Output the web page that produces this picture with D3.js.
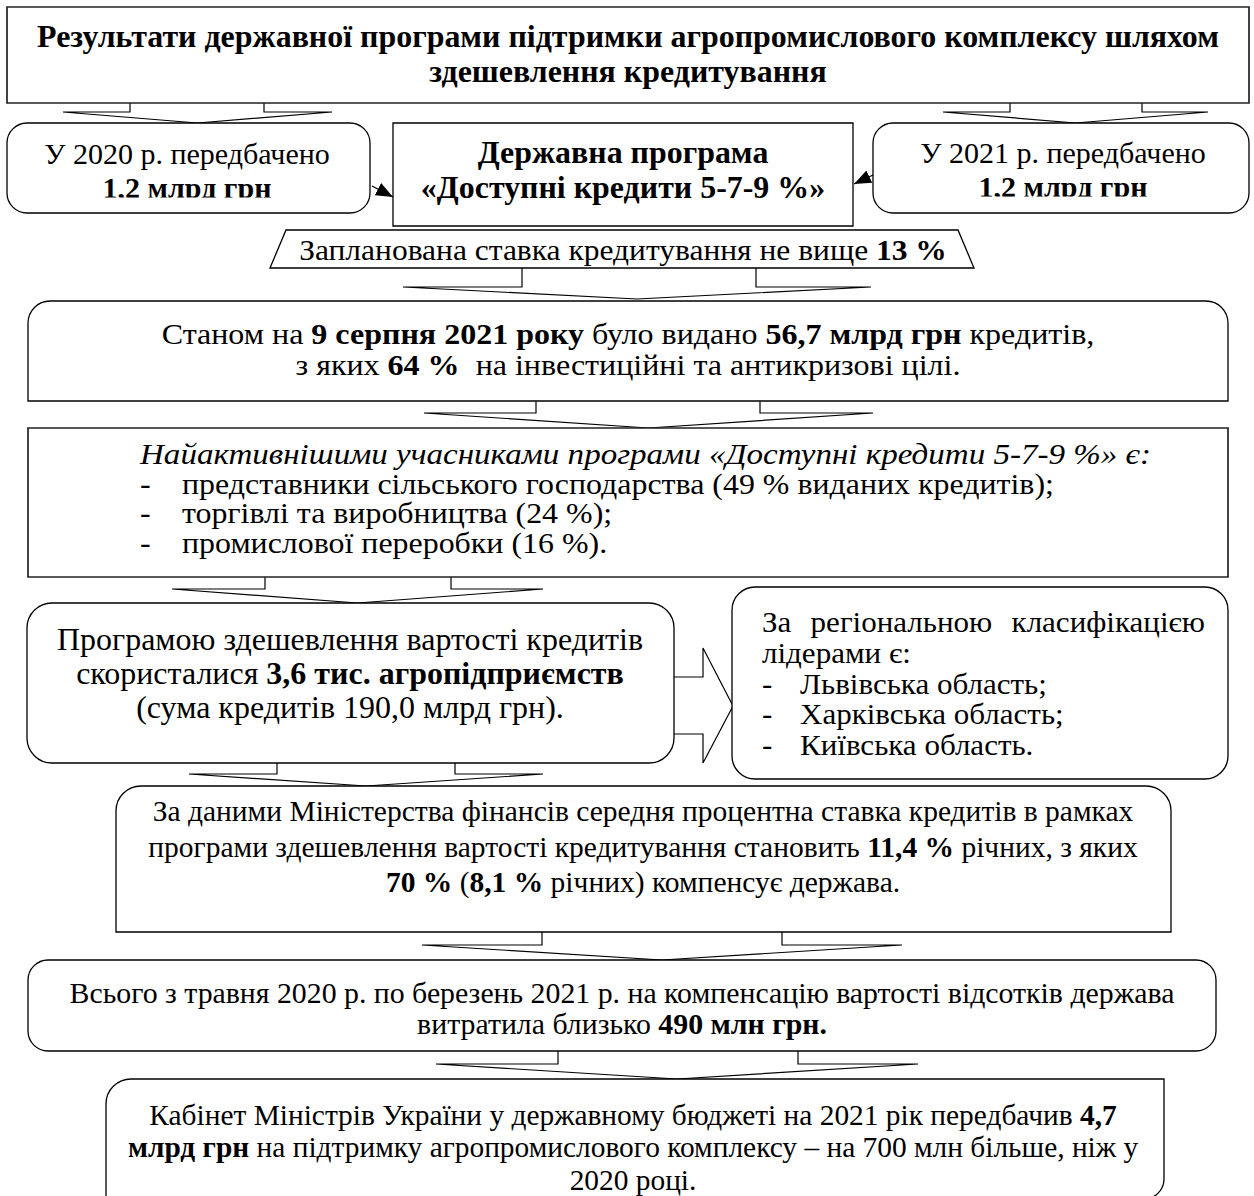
<!DOCTYPE html>
<html>
<head>
<meta charset="utf-8">
<script src="https://cdn.jsdelivr.net/npm/d3@7"></script>
<style>
  body { margin: 0; background: #fff; }
  text { white-space: pre; }
</style>
</head>
<body>
<script>
// block texts, ** marks bold parts
var titleLines = ["Результати державної програми підтримки агропромислового комплексу шляхом", "здешевлення кредитування"]
var plan2020 = ["У 2020 р. передбачено", "**1,2 млрд грн**"]
var programLines = ["Державна програма", "«Доступні кредити 5-7-9 %»"]
var plan2021 = ["У 2021 р. передбачено", "**1,2 млрд грн**"]
var rateLines = ["Запланована ставка кредитування не вище **13 %**"]
var issuedLines = ["Станом на **9 серпня 2021 року** було видано **56,7 млрд грн** кредитів,", "з яких **64 %**  на інвестиційні та антикризові цілі."]
var leadersHead = ["Найактивнішими учасниками програми «Доступні кредити 5-7-9 %» є:"]
var leadersItems = ["представники сільського господарства (49 % виданих кредитів);", "торгівлі та виробництва (24 %);", "промислової переробки (16 %)."]
var cheaperLines = ["Програмою здешевлення вартості кредитів", "скористалися **3,6 тис. агропідприємств**", "(сума кредитів 190,0 млрд грн)."]
var regionWords = ["За", "регіональною", "класифікацією"]
var regionHead = ["лідерами є:"]
var regionItems = ["Львівська область;", "Харківська область;", "Київська область."]
var ministryLines = ["За даними Міністерства фінансів середня процентна ставка кредитів в рамках", "програми здешевлення вартості кредитування становить **11,4 %** річних, з яких", "**70 %** (**8,1 %** річних) компенсує держава."]
var spentLines = ["Всього з травня 2020 р. по березень 2021 р. на компенсацію вартості відсотків держава", "витратила близько **490 млн грн.**"]
var cabinetLines = ["Кабінет Міністрів України у державному бюджеті на 2021 рік передбачив **4,7**", "**млрд грн** на підтримку агропромислового комплексу – на 700 млн більше, ніж у", "2020 році."]

var FONT = "'Liberation Serif', 'Times New Roman', serif"

var svg = d3.select("body").append("svg").attr("width", 1254).attr("height", 1196)

svg.append("defs").append("marker")
  .attr("id", "head").attr("viewBox", "0 0 10 10").attr("refX", 10).attr("refY", 5)
  .attr("markerWidth", 17).attr("markerHeight", 17).attr("markerUnits", "userSpaceOnUse").attr("orient", "auto")
  .append("path").attr("d", "M0,1 L10,5 L0,9 z").attr("fill", "#000")

// rounded box, r = [top-left, top-right, bottom-right, bottom-left]
function box(x, y, w, h, r, sw) {
  var p = d3.path()
  p.moveTo(x + r[0], y)
  p.lineTo(x + w - r[1], y); if (r[1]) p.arcTo(x + w, y, x + w, y + r[1], r[1])
  p.lineTo(x + w, y + h - r[2]); if (r[2]) p.arcTo(x + w, y + h, x + w - r[2], y + h, r[2])
  p.lineTo(x + r[3], y + h); if (r[3]) p.arcTo(x, y + h, x, y + h - r[3], r[3])
  p.lineTo(x, y + r[0]); if (r[0]) p.arcTo(x, y, x + r[0], y, r[0])
  p.closePath()
  return svg.append("path").attr("d", p.toString()).attr("fill", "#fff").attr("stroke", "#000").attr("stroke-width", sw || 1.3)
}

// wide down arrow: stem edges sl/sr, head y and wings hl/hr, tip at yTip
function downArrow(y0, sl, sr, yh, hl, hr, yTip) {
  var cx = (hl + hr) / 2
  var pts = [[sl, y0], [sl, yh], [hl, yh], [cx, yTip], [hr, yh], [sr, yh], [sr, y0]]
  svg.append("path").attr("d", d3.line()(pts)).attr("fill", "#fff").attr("stroke", "#000").attr("stroke-width", 1.2)
}

// text lines; sx widens glyphs a little, the reference Times runs wide
function lines(arr, o) {
  var sx = o.sx || 1
  return arr.map(function(s, i) {
    var g = svg.append("g").attr("transform", "translate(" + o.x + "," + (o.y + i * (o.dy || 0)) + ") scale(" + sx + ",1)")
    if (o.clip) g.attr("clip-path", "url(#" + o.clip + ")")
    var t = g.append("text")
      .attr("text-anchor", o.anchor || "middle")
      .style("font-family", FONT).style("font-size", o.size + "px")
      .style("font-weight", o.weight || "normal").style("font-style", o.style || "normal")
      .attr("fill", "#000")
    s.split("**").forEach(function(part, k) {
      if (part) t.append("tspan").text(part).style("font-weight", k % 2 ? "bold" : null)
    })
    return t
  })
}

// second line of the 2020/2021 boxes is cut off right at its baseline
svg.select("defs").append("clipPath").attr("id", "cut").attr("clipPathUnits", "userSpaceOnUse")
  .append("rect").attr("x", -200).attr("y", -40).attr("width", 400).attr("height", 39.5)

// arrows first, boxes drawn over their ends
downArrow(103, 130, 264, 112, 63, 332, 123)
downArrow(103, 1010, 1142, 112, 943, 1208, 123)
downArrow(268, 522, 756, 287, 403, 871, 299)
downArrow(401, 536, 760, 413, 424, 873, 428)
downArrow(577, 265, 451, 589, 172, 543, 603)
downArrow(763, 277, 455, 774, 189, 543, 786)
downArrow(932, 542, 782, 945, 422, 902, 960)
downArrow(1051, 558, 798, 1064, 436, 918, 1079)

// right block arrow
svg.append("path")
  .attr("d", d3.line()([[673, 677], [703, 677], [703, 648], [733, 706], [703, 763], [703, 734], [673, 734]]))
  .attr("fill", "#fff").attr("stroke", "#000").attr("stroke-width", 1.2)

// title
box(7, 7, 1242, 96, [0, 0, 0, 0], 1.7).attr("stroke", "#222")
lines(titleLines, {x: 628, y: 47, dy: 35, size: 31, sx: 1.03, weight: "bold"})

// top row
box(7, 123, 363, 90, [20, 20, 20, 20])
lines([plan2020[0]], {x: 187, y: 164, size: 30})
lines([plan2020[1]], {x: 187, y: 198, size: 30, clip: "cut"})

box(393, 123, 460, 103, [0, 0, 0, 0])
lines(programLines, {x: 623, y: 163, dy: 35, size: 31, sx: 1.03, weight: "bold"})

box(873, 123, 376, 90, [20, 20, 20, 20])
lines([plan2021[0]], {x: 1063, y: 163, size: 30})
lines([plan2021[1]], {x: 1063, y: 197, size: 30, clip: "cut"})

svg.append("line").attr("x1", 372).attr("y1", 186).attr("x2", 393).attr("y2", 197)
  .attr("stroke", "#000").attr("stroke-width", 1.3).attr("marker-end", "url(#head)")
svg.append("line").attr("x1", 873).attr("y1", 175).attr("x2", 854).attr("y2", 184)
  .attr("stroke", "#000").attr("stroke-width", 1.3).attr("marker-end", "url(#head)")

// trapezoid
svg.append("path").attr("d", d3.line()([[270, 268], [286, 230], [958, 230], [974, 268]]) + "Z")
  .attr("fill", "#fff").attr("stroke", "#000").attr("stroke-width", 1.3)
lines(rateLines, {x: 623, y: 260, size: 30, sx: 1.05})

box(28, 301, 1200, 100, [22, 22, 0, 0])
lines(issuedLines, {x: 628, y: 344, dy: 31, size: 30, sx: 1.067})

box(28, 428, 1200, 149, [0, 0, 0, 0], 1.7).attr("stroke", "#222")
lines(leadersHead, {x: 140, y: 464, anchor: "start", style: "italic", size: 29, sx: 1.14})
leadersItems.forEach(function(s, i) {
  lines(["-"], {x: 140, y: 493.5 + i * 29.5, anchor: "start", size: 28.5, sx: 1.12})
  lines([s], {x: 182, y: 493.5 + i * 29.5, anchor: "start", size: 28.5, sx: 1.12})
})

box(27, 603, 647, 160, [25, 25, 25, 25])
lines(cheaperLines, {x: 350, y: 650, dy: 34, size: 31, sx: 1.032})

// region box, first line justified between the box margins
box(732, 587, 496, 192, [23, 23, 23, 23])
var rOpt = {size: 29, sx: 1.07, anchor: "start"}
var rLeft = 762, rRight = 1205
var wNodes = regionWords.map(function(w) { return lines([w], Object.assign({x: 0, y: 632}, rOpt))[0] })
var wLen = wNodes.map(function(t) { return t.node().getComputedTextLength() * rOpt.sx })
var gap = (rRight - rLeft - d3.sum(wLen)) / (wLen.length - 1)
var cur = rLeft
wNodes.forEach(function(t, i) {
  d3.select(t.node().parentNode).attr("transform", "translate(" + cur + ",632) scale(" + rOpt.sx + ",1)")
  cur += wLen[i] + gap
})
lines(regionHead, Object.assign({x: rLeft, y: 662.75}, rOpt))
regionItems.forEach(function(s, i) {
  lines(["-"], Object.assign({x: rLeft, y: 693.5 + i * 30.75}, rOpt))
  lines([s], Object.assign({x: 800, y: 693.5 + i * 30.75}, rOpt))
})

box(116, 786, 1055, 146, [25, 25, 0, 0])
lines(ministryLines, {x: 643, y: 821, dy: 35.5, size: 29.5})

box(28, 960, 1188, 91, [20, 20, 20, 20])
lines(spentLines, {x: 622, y: 1003, dy: 31, size: 28.5, sx: 1.046})

box(106, 1079, 1058, 120, [25, 0, 20, 0])
lines(cabinetLines, {x: 633, y: 1124.5, dy: 32.5, size: 29.4})
</script>
</body>
</html>
